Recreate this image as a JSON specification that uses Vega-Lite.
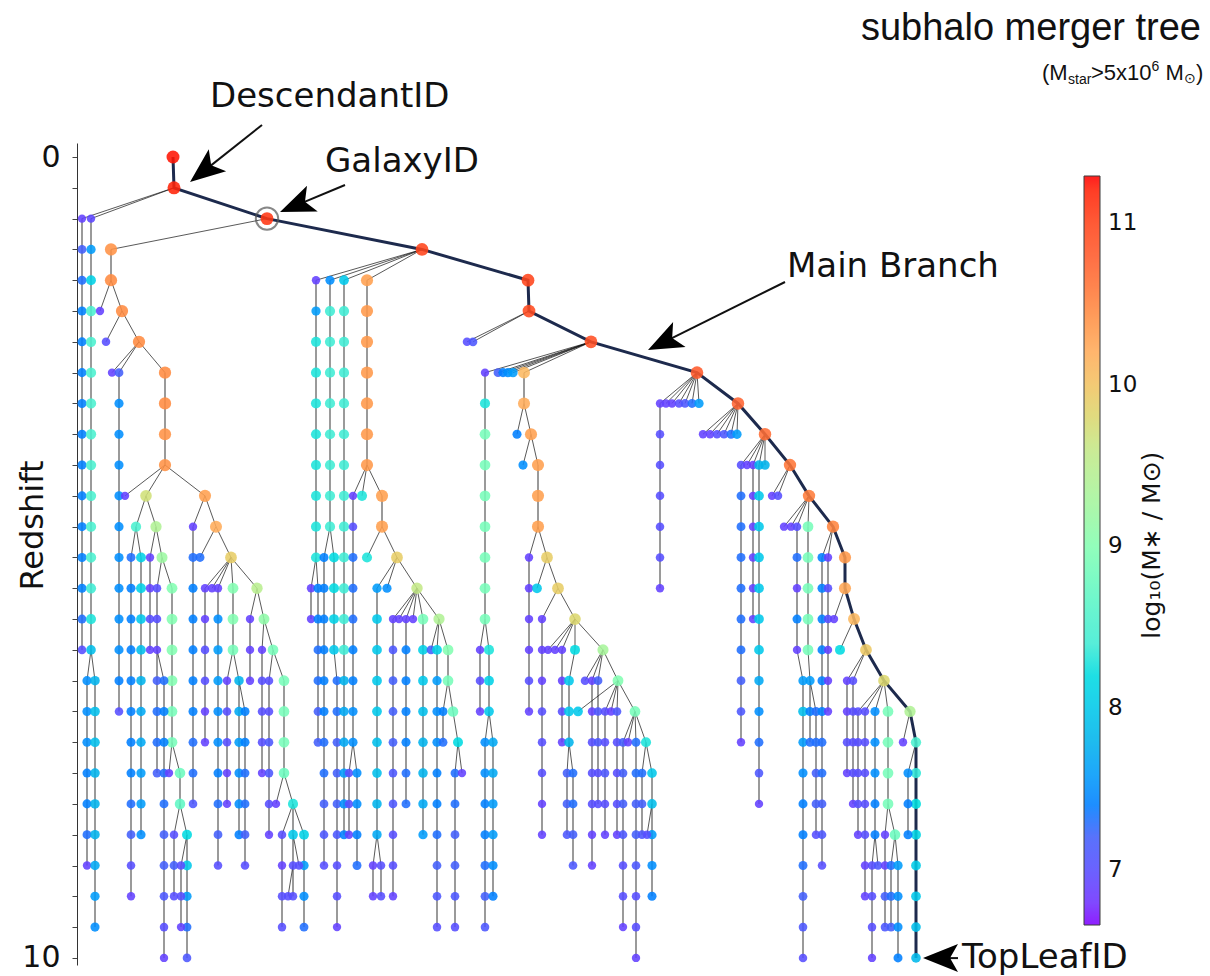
{
"$schema":"https://vega.github.io/schema/vega-lite/v6.json",
"width":1133,"height":822,"autosize":"none",
"padding":{"left":77,"top":143,"right":0,"bottom":11},
"background":"white",
"config":{"view":{"stroke":null},"font":"DejaVu Sans"},
"datasets":{
"nodes":[
{"x":173,"l":0,"m":11.25,"mb":1},{"x":174,"l":1,"m":11.2,"mb":1},{"x":267,"l":2,"m":11.1,"mb":1},{"x":422,"l":3,"m":11.0,"mb":1},{"x":528,"l":4,"m":11.0,"mb":1},{"x":529,"l":5,"m":10.95,"mb":1},{"x":591,"l":6,"m":10.9,"mb":1},{"x":697,"l":7,"m":10.8,"mb":1},{"x":738,"l":8,"m":10.7,"mb":1},{"x":765,"l":9,"m":10.65,"mb":1},{"x":790,"l":10,"m":10.6,"mb":1},{"x":809,"l":11,"m":10.55,"mb":1},{"x":833,"l":12,"m":10.5,"mb":1},{"x":845,"l":13,"m":10.35,"mb":1},{"x":845,"l":14,"m":10.25,"mb":1},{"x":854,"l":15,"m":10.1,"mb":1},{"x":866,"l":16,"m":9.95,"mb":1},{"x":884,"l":17,"m":9.8,"mb":1},{"x":910,"l":18,"m":9.4,"mb":1},{"x":916,"l":19,"m":8.5,"mb":1},{"x":916,"l":20,"m":8.35,"mb":1},{"x":916,"l":21,"m":8.25,"mb":1},{"x":916,"l":22,"m":8.15,"mb":1},{"x":916,"l":23,"m":8.05,"mb":1},{"x":916,"l":24,"m":8.0,"mb":1},{"x":916,"l":25,"m":7.9,"mb":1},{"x":916,"l":26,"m":7.85,"mb":1},
{"x":82,"l":2,"m":6.9},{"x":82,"l":3,"m":7.2},{"x":82,"l":4,"m":7.3},{"x":82,"l":5,"m":7.4},{"x":82,"l":6,"m":7.4},{"x":82,"l":7,"m":7.4},{"x":82,"l":8,"m":7.4},{"x":82,"l":9,"m":7.4},{"x":82,"l":10,"m":7.4},{"x":82,"l":11,"m":7.4},{"x":82,"l":12,"m":7.4},{"x":82,"l":13,"m":7.4},{"x":82,"l":14,"m":7.4},{"x":82,"l":15,"m":7.3},{"x":82,"l":16,"m":7.0},
{"x":91,"l":2,"m":6.95},{"x":91,"l":3,"m":7.6},{"x":91,"l":4,"m":8.1},{"x":91,"l":5,"m":8.5},{"x":91,"l":6,"m":8.5},{"x":91,"l":7,"m":8.5},{"x":91,"l":8,"m":8.5},{"x":91,"l":9,"m":8.5},{"x":91,"l":10,"m":8.5},{"x":91,"l":11,"m":8.5},{"x":91,"l":12,"m":8.5},{"x":91,"l":13,"m":8.5},{"x":91,"l":14,"m":8.4},{"x":91,"l":15,"m":8.3},{"x":91,"l":16,"m":7.9},
{"x":87,"l":17,"m":7.5},{"x":87,"l":18,"m":7.5},{"x":87,"l":19,"m":7.5},{"x":87,"l":20,"m":7.4},{"x":87,"l":21,"m":7.4},{"x":87,"l":22,"m":7.3},{"x":87,"l":23,"m":6.9},
{"x":95,"l":17,"m":7.8},{"x":95,"l":18,"m":7.9},{"x":95,"l":19,"m":7.9},{"x":95,"l":20,"m":7.8},{"x":95,"l":21,"m":7.8},{"x":95,"l":22,"m":7.8},{"x":95,"l":23,"m":7.7},{"x":95,"l":24,"m":7.6},{"x":95,"l":25,"m":7.5},
{"x":111,"l":3,"m":10.4},{"x":111,"l":4,"m":10.45},{"x":100,"l":5,"m":6.9},{"x":122,"l":5,"m":10.45},{"x":106,"l":6,"m":7.0},{"x":139,"l":6,"m":10.45},{"x":112,"l":7,"m":6.9},
{"x":119,"l":7,"m":7.2},{"x":119,"l":8,"m":7.5},{"x":119,"l":9,"m":7.5},{"x":119,"l":10,"m":7.5},{"x":119,"l":11,"m":7.5},{"x":119,"l":12,"m":7.5},{"x":119,"l":13,"m":7.5},{"x":119,"l":14,"m":7.5},{"x":119,"l":15,"m":7.5},{"x":119,"l":16,"m":7.5},{"x":119,"l":17,"m":7.4},{"x":119,"l":18,"m":7.0},
{"x":165,"l":7,"m":10.45},{"x":165,"l":8,"m":10.45},{"x":165,"l":9,"m":10.4},{"x":165,"l":10,"m":10.4},
{"x":125,"l":11,"m":6.9},{"x":146,"l":11,"m":9.7},{"x":205,"l":11,"m":10.3},{"x":136,"l":12,"m":8.5},{"x":156,"l":12,"m":9.4},
{"x":131,"l":13,"m":7.3},{"x":131,"l":14,"m":7.4},{"x":131,"l":15,"m":7.4},{"x":131,"l":16,"m":7.4},{"x":131,"l":17,"m":7.4},{"x":131,"l":18,"m":7.4},{"x":131,"l":19,"m":7.4},{"x":131,"l":20,"m":7.4},{"x":131,"l":21,"m":7.3},{"x":131,"l":22,"m":7.2},{"x":131,"l":23,"m":7.0},{"x":131,"l":24,"m":6.9},
{"x":141,"l":13,"m":8.1},{"x":141,"l":14,"m":8.1},{"x":141,"l":15,"m":8.0},{"x":141,"l":16,"m":7.9},{"x":141,"l":17,"m":7.8},{"x":141,"l":18,"m":7.7},{"x":141,"l":19,"m":7.7},{"x":141,"l":20,"m":7.6},{"x":141,"l":21,"m":7.6},{"x":141,"l":22,"m":7.5},
{"x":150,"l":13,"m":6.9},{"x":150,"l":14,"m":6.9},{"x":150,"l":15,"m":7.0},{"x":150,"l":16,"m":6.9},{"x":162,"l":13,"m":9.2},
{"x":157,"l":14,"m":7.0},{"x":157,"l":15,"m":7.0},{"x":157,"l":16,"m":6.9},{"x":157,"l":17,"m":7.2},{"x":157,"l":18,"m":7.3},{"x":157,"l":19,"m":7.3},{"x":157,"l":20,"m":7.2},
{"x":172,"l":14,"m":9.0},{"x":172,"l":15,"m":9.0},{"x":172,"l":16,"m":9.0},{"x":172,"l":17,"m":9.0},{"x":172,"l":18,"m":8.9},{"x":172,"l":19,"m":8.9},
{"x":164,"l":17,"m":7.3},{"x":164,"l":18,"m":7.4},{"x":164,"l":19,"m":7.4},{"x":164,"l":20,"m":7.3},{"x":164,"l":21,"m":7.3},{"x":164,"l":22,"m":7.2},{"x":164,"l":23,"m":7.2},{"x":164,"l":24,"m":7.1},{"x":164,"l":25,"m":7.0},{"x":164,"l":26,"m":6.9},
{"x":169,"l":20,"m":6.9},{"x":180,"l":20,"m":8.8},{"x":180,"l":21,"m":8.7},
{"x":174,"l":22,"m":7.0},{"x":174,"l":23,"m":7.2},{"x":174,"l":24,"m":7.0},
{"x":187,"l":22,"m":8.2},{"x":187,"l":23,"m":8.0},{"x":187,"l":24,"m":7.6},{"x":187,"l":25,"m":7.3},{"x":187,"l":26,"m":7.1},
{"x":181,"l":23,"m":7.0},{"x":181,"l":24,"m":7.0},{"x":181,"l":25,"m":6.9},
{"x":193,"l":12,"m":6.9},{"x":193,"l":13,"m":7.3},{"x":193,"l":14,"m":7.4},{"x":193,"l":15,"m":7.4},{"x":193,"l":16,"m":7.4},{"x":193,"l":17,"m":7.4},{"x":193,"l":18,"m":7.4},{"x":193,"l":19,"m":7.3},{"x":193,"l":20,"m":7.3},{"x":193,"l":21,"m":7.1},
{"x":216,"l":12,"m":10.2},{"x":200,"l":13,"m":7.3},{"x":231,"l":13,"m":9.9},
{"x":205,"l":14,"m":6.9},{"x":205,"l":15,"m":6.9},{"x":205,"l":16,"m":7.0},{"x":205,"l":17,"m":7.0},{"x":205,"l":18,"m":6.9},{"x":205,"l":19,"m":6.9},
{"x":212,"l":14,"m":6.9},
{"x":218,"l":14,"m":6.9},{"x":218,"l":15,"m":7.5},{"x":218,"l":16,"m":7.6},{"x":218,"l":17,"m":7.6},{"x":218,"l":18,"m":7.5},{"x":218,"l":19,"m":7.5},{"x":218,"l":20,"m":7.4},{"x":218,"l":21,"m":7.3},{"x":218,"l":22,"m":7.2},{"x":218,"l":23,"m":7.0},
{"x":233,"l":14,"m":9.0},{"x":233,"l":15,"m":9.0},{"x":233,"l":16,"m":8.9},{"x":257,"l":14,"m":9.5},
{"x":227,"l":17,"m":6.9},{"x":227,"l":18,"m":7.0},{"x":227,"l":19,"m":7.0},{"x":227,"l":20,"m":6.9},{"x":227,"l":21,"m":6.9},
{"x":239,"l":17,"m":7.8},{"x":239,"l":18,"m":7.7},{"x":239,"l":19,"m":7.6},{"x":239,"l":20,"m":7.5},{"x":239,"l":21,"m":7.5},{"x":239,"l":22,"m":7.4},
{"x":245,"l":18,"m":7.4},{"x":245,"l":19,"m":7.4},{"x":245,"l":20,"m":7.3},{"x":245,"l":21,"m":7.3},{"x":245,"l":22,"m":7.2},{"x":245,"l":23,"m":7.0},
{"x":250,"l":15,"m":6.9},{"x":250,"l":16,"m":6.9},{"x":250,"l":17,"m":6.9},{"x":264,"l":15,"m":9.1},
{"x":262,"l":16,"m":6.9},{"x":262,"l":17,"m":7.0},{"x":262,"l":18,"m":7.0},{"x":262,"l":19,"m":7.0},{"x":262,"l":20,"m":6.9},
{"x":269,"l":17,"m":7.0},{"x":269,"l":18,"m":7.0},{"x":269,"l":19,"m":7.1},{"x":269,"l":20,"m":7.1},{"x":269,"l":21,"m":7.0},{"x":269,"l":22,"m":6.9},
{"x":273,"l":16,"m":8.9},
{"x":284,"l":17,"m":8.9},{"x":284,"l":18,"m":8.9},{"x":284,"l":19,"m":8.9},{"x":284,"l":20,"m":8.8},
{"x":276,"l":21,"m":6.9},
{"x":293,"l":21,"m":8.3},{"x":293,"l":22,"m":8.0},{"x":293,"l":23,"m":7.0},{"x":293,"l":24,"m":7.0},
{"x":282,"l":22,"m":7.0},{"x":282,"l":23,"m":6.9},{"x":282,"l":24,"m":7.0},{"x":282,"l":25,"m":7.0},
{"x":304,"l":22,"m":8.1},{"x":304,"l":23,"m":7.6},{"x":304,"l":24,"m":7.5},{"x":304,"l":25,"m":7.3},
{"x":299,"l":23,"m":7.0},{"x":288,"l":24,"m":7.0},
{"x":316,"l":4,"m":6.9},{"x":316,"l":5,"m":7.6},{"x":316,"l":6,"m":8.3},{"x":316,"l":7,"m":8.3},{"x":316,"l":8,"m":8.3},{"x":316,"l":9,"m":8.3},{"x":316,"l":10,"m":8.3},{"x":316,"l":11,"m":8.3},{"x":316,"l":12,"m":8.3},{"x":316,"l":13,"m":8.3},
{"x":311,"l":14,"m":6.9},{"x":311,"l":15,"m":6.9},
{"x":318,"l":14,"m":7.4},{"x":318,"l":15,"m":7.4},{"x":318,"l":16,"m":7.3},{"x":318,"l":17,"m":7.3},{"x":318,"l":18,"m":7.2},{"x":318,"l":19,"m":7.2},
{"x":330,"l":4,"m":7.5},{"x":330,"l":5,"m":8.4},{"x":330,"l":6,"m":8.4},{"x":330,"l":7,"m":8.4},{"x":330,"l":8,"m":8.4},{"x":330,"l":9,"m":8.4},{"x":330,"l":10,"m":8.4},{"x":330,"l":11,"m":8.4},{"x":330,"l":12,"m":8.4},
{"x":324,"l":13,"m":7.4},{"x":324,"l":14,"m":7.4},{"x":324,"l":15,"m":7.4},{"x":324,"l":16,"m":7.4},{"x":324,"l":17,"m":7.4},{"x":324,"l":18,"m":7.4},{"x":324,"l":19,"m":7.3},{"x":324,"l":20,"m":7.3},{"x":324,"l":21,"m":7.2},{"x":324,"l":22,"m":7.1},{"x":324,"l":23,"m":7.0},
{"x":334,"l":13,"m":8.2},{"x":334,"l":14,"m":8.2},{"x":334,"l":15,"m":8.1},{"x":334,"l":16,"m":8.0},
{"x":337,"l":17,"m":7.3},{"x":337,"l":18,"m":7.3},{"x":337,"l":19,"m":7.2},{"x":337,"l":20,"m":7.2},{"x":337,"l":21,"m":7.2},{"x":337,"l":22,"m":7.1},{"x":337,"l":23,"m":7.0},{"x":337,"l":24,"m":7.0},{"x":337,"l":25,"m":6.9},
{"x":344,"l":4,"m":8.0},{"x":344,"l":5,"m":8.4},{"x":344,"l":6,"m":8.4},{"x":344,"l":7,"m":8.4},{"x":344,"l":8,"m":8.4},{"x":344,"l":9,"m":8.4},{"x":344,"l":10,"m":8.4},{"x":344,"l":11,"m":8.4},{"x":344,"l":12,"m":8.4},{"x":344,"l":13,"m":8.4},{"x":344,"l":14,"m":8.4},{"x":344,"l":15,"m":8.4},{"x":344,"l":16,"m":8.4},{"x":344,"l":17,"m":7.8},{"x":344,"l":18,"m":7.7},{"x":344,"l":19,"m":7.7},{"x":344,"l":20,"m":7.6},{"x":344,"l":21,"m":7.5},{"x":344,"l":22,"m":7.4},
{"x":367,"l":4,"m":10.3},{"x":367,"l":5,"m":10.35},{"x":367,"l":6,"m":10.35},{"x":367,"l":7,"m":10.35},{"x":367,"l":8,"m":10.35},{"x":367,"l":9,"m":10.35},{"x":367,"l":10,"m":10.35},
{"x":353,"l":11,"m":6.9},{"x":353,"l":12,"m":7.0},{"x":353,"l":13,"m":7.3},{"x":353,"l":14,"m":7.3},{"x":353,"l":15,"m":7.3},{"x":353,"l":16,"m":7.4},{"x":353,"l":17,"m":7.4},{"x":353,"l":18,"m":7.5},{"x":353,"l":19,"m":7.5},
{"x":362,"l":11,"m":8.3},{"x":382,"l":11,"m":10.3},{"x":382,"l":12,"m":10.3},{"x":367,"l":13,"m":8.3},{"x":397,"l":13,"m":9.9},
{"x":377,"l":14,"m":7.6},{"x":377,"l":15,"m":8.0},{"x":377,"l":16,"m":8.0},{"x":377,"l":17,"m":8.0},{"x":377,"l":18,"m":8.0},{"x":377,"l":19,"m":7.9},{"x":377,"l":20,"m":7.9},{"x":377,"l":21,"m":7.8},{"x":377,"l":22,"m":7.7},
{"x":373,"l":23,"m":6.9},{"x":373,"l":24,"m":6.9},{"x":381,"l":23,"m":7.0},{"x":381,"l":24,"m":7.0},
{"x":387,"l":14,"m":7.5},{"x":417,"l":14,"m":9.6},
{"x":393,"l":15,"m":6.9},{"x":393,"l":16,"m":7.1},{"x":393,"l":17,"m":7.2},{"x":393,"l":18,"m":7.2},{"x":393,"l":19,"m":7.2},{"x":393,"l":20,"m":7.1},{"x":393,"l":21,"m":7.1},{"x":393,"l":22,"m":7.0},{"x":393,"l":23,"m":7.0},{"x":393,"l":24,"m":6.9},
{"x":399,"l":15,"m":6.9},
{"x":406,"l":15,"m":6.9},{"x":406,"l":16,"m":7.4},{"x":406,"l":17,"m":7.4},{"x":406,"l":18,"m":7.4},{"x":406,"l":19,"m":7.4},{"x":406,"l":20,"m":7.3},{"x":406,"l":21,"m":7.3},
{"x":413,"l":15,"m":6.9},
{"x":423,"l":15,"m":8.9},{"x":423,"l":16,"m":8.1},{"x":423,"l":17,"m":8.0},{"x":423,"l":18,"m":7.9},{"x":423,"l":19,"m":7.8},{"x":423,"l":20,"m":7.8},{"x":423,"l":21,"m":7.7},{"x":423,"l":22,"m":7.6},
{"x":439,"l":15,"m":9.4},{"x":431,"l":16,"m":7.2},
{"x":437,"l":16,"m":8.1},{"x":437,"l":17,"m":7.6},{"x":437,"l":18,"m":7.5},{"x":437,"l":19,"m":7.5},{"x":437,"l":20,"m":7.4},{"x":437,"l":21,"m":7.4},{"x":437,"l":22,"m":7.3},{"x":437,"l":23,"m":7.2},{"x":437,"l":24,"m":7.1},{"x":437,"l":25,"m":7.0},
{"x":448,"l":16,"m":9.0},{"x":448,"l":17,"m":8.9},{"x":443,"l":18,"m":7.4},{"x":443,"l":19,"m":7.3},{"x":453,"l":18,"m":8.8},{"x":458,"l":19,"m":8.2},
{"x":455,"l":20,"m":7.3},{"x":455,"l":21,"m":7.3},{"x":455,"l":22,"m":7.2},{"x":455,"l":23,"m":7.2},{"x":455,"l":24,"m":7.1},{"x":455,"l":25,"m":7.0},
{"x":462,"l":20,"m":6.9},
{"x":349,"l":20,"m":7.0},{"x":349,"l":21,"m":7.0},{"x":349,"l":22,"m":6.9},
{"x":357,"l":20,"m":7.5},{"x":357,"l":21,"m":7.5},{"x":357,"l":22,"m":7.4},{"x":357,"l":23,"m":7.3},
{"x":485,"l":7,"m":6.9},{"x":485,"l":8,"m":8.3},{"x":485,"l":9,"m":8.9},{"x":485,"l":10,"m":8.9},{"x":485,"l":11,"m":8.9},{"x":485,"l":12,"m":8.9},{"x":485,"l":13,"m":8.9},{"x":485,"l":14,"m":8.9},{"x":485,"l":15,"m":8.9},
{"x":498,"l":7,"m":7.2},{"x":503,"l":7,"m":7.4},{"x":508,"l":7,"m":7.5},{"x":513,"l":7,"m":7.6},
{"x":524,"l":7,"m":10.1},{"x":524,"l":8,"m":10.2},{"x":517,"l":9,"m":7.4},{"x":531,"l":9,"m":10.3},{"x":523,"l":10,"m":7.5},
{"x":538,"l":10,"m":10.3},{"x":538,"l":11,"m":10.3},{"x":538,"l":12,"m":10.3},
{"x":529,"l":13,"m":6.9},{"x":529,"l":14,"m":6.9},{"x":529,"l":15,"m":6.9},{"x":529,"l":16,"m":6.9},{"x":529,"l":17,"m":7.0},{"x":529,"l":18,"m":6.9},
{"x":547,"l":13,"m":9.9},{"x":537,"l":14,"m":8.0},{"x":558,"l":14,"m":9.9},
{"x":542,"l":15,"m":6.9},{"x":542,"l":16,"m":6.9},{"x":542,"l":17,"m":6.9},{"x":542,"l":18,"m":7.0},{"x":542,"l":19,"m":7.0},{"x":542,"l":20,"m":7.0},{"x":542,"l":21,"m":6.9},{"x":542,"l":22,"m":6.9},
{"x":575,"l":15,"m":9.8},{"x":548,"l":16,"m":6.9},{"x":555,"l":16,"m":6.9},
{"x":562,"l":16,"m":6.9},{"x":562,"l":17,"m":6.9},{"x":562,"l":18,"m":7.0},{"x":562,"l":19,"m":6.9},
{"x":575,"l":16,"m":8.2},{"x":603,"l":16,"m":9.3},
{"x":569,"l":17,"m":8.0},{"x":569,"l":18,"m":8.0},{"x":569,"l":19,"m":7.8},
{"x":567,"l":20,"m":7.2},{"x":567,"l":21,"m":7.2},{"x":567,"l":22,"m":7.1},
{"x":573,"l":20,"m":7.3},{"x":573,"l":21,"m":7.3},{"x":573,"l":22,"m":7.2},{"x":573,"l":23,"m":7.1},
{"x":585,"l":17,"m":7.0},
{"x":592,"l":17,"m":6.9},{"x":592,"l":18,"m":6.9},{"x":592,"l":19,"m":7.0},{"x":592,"l":20,"m":7.0},{"x":592,"l":21,"m":7.0},{"x":592,"l":22,"m":6.9},{"x":592,"l":23,"m":6.9},
{"x":598,"l":17,"m":7.2},{"x":598,"l":18,"m":7.1},{"x":598,"l":19,"m":7.1},{"x":598,"l":20,"m":7.0},{"x":598,"l":21,"m":7.0},
{"x":618,"l":17,"m":9.0},{"x":578,"l":18,"m":8.0},
{"x":605,"l":18,"m":7.0},{"x":605,"l":19,"m":7.0},{"x":605,"l":20,"m":7.1},{"x":605,"l":21,"m":7.0},{"x":605,"l":22,"m":6.9},
{"x":611,"l":18,"m":6.9},
{"x":617,"l":18,"m":7.1},{"x":617,"l":19,"m":7.0},{"x":617,"l":20,"m":7.0},{"x":617,"l":21,"m":7.0},{"x":617,"l":22,"m":6.9},
{"x":635,"l":18,"m":8.9},
{"x":623,"l":19,"m":7.2},{"x":623,"l":20,"m":7.2},{"x":623,"l":21,"m":7.2},{"x":623,"l":22,"m":7.1},{"x":623,"l":23,"m":7.0},{"x":623,"l":24,"m":7.0},{"x":623,"l":25,"m":6.9},
{"x":628,"l":19,"m":6.9},
{"x":636,"l":19,"m":7.3},{"x":636,"l":20,"m":7.3},{"x":636,"l":21,"m":7.2},{"x":636,"l":22,"m":7.2},{"x":636,"l":23,"m":7.1},{"x":636,"l":24,"m":7.0},{"x":636,"l":25,"m":7.0},{"x":636,"l":26,"m":6.9},
{"x":646,"l":19,"m":8.3},
{"x":642,"l":20,"m":7.3},{"x":642,"l":21,"m":7.2},{"x":642,"l":22,"m":7.1},
{"x":652,"l":20,"m":8.0},{"x":652,"l":21,"m":7.9},{"x":652,"l":22,"m":7.6},{"x":652,"l":23,"m":7.5},{"x":652,"l":24,"m":7.4},
{"x":647,"l":22,"m":7.0},
{"x":480,"l":16,"m":6.9},{"x":480,"l":17,"m":7.0},{"x":480,"l":18,"m":6.9},
{"x":489,"l":16,"m":8.3},{"x":489,"l":17,"m":8.1},{"x":489,"l":18,"m":8.0},
{"x":485,"l":19,"m":7.5},{"x":485,"l":20,"m":7.5},{"x":485,"l":21,"m":7.4},{"x":485,"l":22,"m":7.4},{"x":485,"l":23,"m":7.3},{"x":485,"l":24,"m":7.2},{"x":485,"l":25,"m":7.1},
{"x":493,"l":19,"m":7.7},{"x":493,"l":20,"m":7.7},{"x":493,"l":21,"m":7.6},{"x":493,"l":22,"m":7.6},{"x":493,"l":23,"m":7.5},{"x":493,"l":24,"m":7.4},
{"x":467,"l":6,"m":7.0},{"x":473,"l":6,"m":7.1},
{"x":660,"l":8,"m":6.9},{"x":660,"l":9,"m":7.0},{"x":660,"l":10,"m":7.0},{"x":660,"l":11,"m":7.0},{"x":660,"l":12,"m":7.0},{"x":660,"l":13,"m":7.0},{"x":660,"l":14,"m":6.9},
{"x":666,"l":8,"m":6.9},{"x":672,"l":8,"m":6.9},{"x":679,"l":8,"m":7.0},{"x":685,"l":8,"m":7.1},{"x":692,"l":8,"m":7.3},{"x":699,"l":8,"m":7.6},
{"x":703,"l":9,"m":6.9},{"x":710,"l":9,"m":6.9},{"x":717,"l":9,"m":7.0},{"x":724,"l":9,"m":7.1},{"x":731,"l":9,"m":7.3},{"x":737,"l":9,"m":7.6},
{"x":741,"l":10,"m":7.0},{"x":741,"l":11,"m":7.3},{"x":741,"l":12,"m":7.3},{"x":741,"l":13,"m":7.3},{"x":741,"l":14,"m":7.3},{"x":741,"l":15,"m":7.3},{"x":741,"l":16,"m":7.3},{"x":741,"l":17,"m":7.2},{"x":741,"l":18,"m":7.1},{"x":741,"l":19,"m":6.9},
{"x":747,"l":10,"m":6.9},
{"x":753,"l":10,"m":6.9},{"x":753,"l":11,"m":6.9},{"x":753,"l":12,"m":6.9},{"x":753,"l":13,"m":6.9},{"x":753,"l":14,"m":6.9},{"x":753,"l":15,"m":6.9},
{"x":759,"l":10,"m":7.8},{"x":759,"l":11,"m":8.0},{"x":759,"l":12,"m":8.0},{"x":759,"l":13,"m":8.0},{"x":759,"l":14,"m":8.0},{"x":759,"l":15,"m":8.0},{"x":759,"l":16,"m":8.0},{"x":759,"l":17,"m":7.7},{"x":759,"l":18,"m":7.5},{"x":759,"l":19,"m":7.3},{"x":759,"l":20,"m":7.1},{"x":759,"l":21,"m":6.9},
{"x":765,"l":10,"m":7.8},{"x":772,"l":11,"m":6.9},{"x":778,"l":11,"m":7.0},{"x":784,"l":12,"m":6.9},{"x":791,"l":12,"m":6.9},
{"x":797,"l":12,"m":7.0},{"x":797,"l":13,"m":7.3},{"x":797,"l":14,"m":6.9},{"x":797,"l":15,"m":7.4},{"x":797,"l":16,"m":6.9},
{"x":808,"l":12,"m":8.9},{"x":808,"l":13,"m":8.9},{"x":808,"l":14,"m":8.9},{"x":808,"l":15,"m":8.9},{"x":808,"l":16,"m":8.9},
{"x":803,"l":17,"m":7.6},{"x":803,"l":18,"m":7.9},{"x":803,"l":19,"m":7.6},{"x":803,"l":20,"m":7.5},{"x":803,"l":21,"m":7.4},{"x":803,"l":22,"m":7.4},{"x":803,"l":23,"m":7.3},{"x":803,"l":24,"m":7.2},{"x":803,"l":25,"m":7.1},{"x":803,"l":26,"m":7.0},
{"x":810,"l":17,"m":7.6},{"x":810,"l":18,"m":7.4},{"x":810,"l":19,"m":7.3},
{"x":816,"l":18,"m":7.3},{"x":816,"l":19,"m":7.3},{"x":816,"l":20,"m":7.2},{"x":816,"l":21,"m":7.2},{"x":816,"l":22,"m":7.0},
{"x":822,"l":13,"m":7.4},{"x":822,"l":14,"m":7.4},{"x":822,"l":15,"m":7.4},{"x":822,"l":16,"m":7.4},{"x":822,"l":17,"m":7.4},{"x":822,"l":18,"m":7.4},{"x":822,"l":19,"m":7.3},{"x":822,"l":20,"m":7.3},{"x":822,"l":21,"m":7.2},{"x":822,"l":22,"m":7.1},{"x":822,"l":23,"m":7.0},
{"x":828,"l":13,"m":6.9},{"x":828,"l":14,"m":7.0},{"x":828,"l":15,"m":7.0},{"x":828,"l":16,"m":6.9},{"x":828,"l":17,"m":6.9},{"x":828,"l":18,"m":6.9},
{"x":834,"l":15,"m":6.9},{"x":840,"l":16,"m":8.2},
{"x":847,"l":17,"m":6.9},{"x":847,"l":18,"m":6.9},{"x":847,"l":19,"m":7.0},{"x":847,"l":20,"m":6.9},
{"x":853,"l":17,"m":7.0},{"x":853,"l":18,"m":7.0},{"x":853,"l":19,"m":7.0},{"x":853,"l":20,"m":7.0},{"x":853,"l":21,"m":6.9},
{"x":858,"l":18,"m":7.0},{"x":858,"l":19,"m":7.0},{"x":858,"l":20,"m":7.0},{"x":858,"l":21,"m":7.0},{"x":858,"l":22,"m":6.9},
{"x":865,"l":18,"m":7.0},{"x":865,"l":19,"m":7.0},{"x":865,"l":20,"m":7.0},{"x":865,"l":21,"m":7.0},{"x":865,"l":22,"m":7.0},{"x":865,"l":23,"m":6.9},{"x":865,"l":24,"m":6.9},
{"x":875,"l":18,"m":7.5},{"x":875,"l":19,"m":7.5},{"x":875,"l":20,"m":7.5},{"x":875,"l":21,"m":7.4},{"x":875,"l":22,"m":7.4},
{"x":888,"l":18,"m":8.9},{"x":888,"l":19,"m":8.9},{"x":888,"l":20,"m":8.9},{"x":888,"l":21,"m":8.9},
{"x":872,"l":23,"m":7.0},{"x":872,"l":24,"m":7.0},{"x":872,"l":25,"m":7.0},{"x":872,"l":26,"m":6.9},
{"x":878,"l":23,"m":7.1},
{"x":885,"l":22,"m":6.9},{"x":885,"l":23,"m":6.9},{"x":885,"l":24,"m":7.2},{"x":885,"l":25,"m":7.1},
{"x":895,"l":22,"m":8.8},
{"x":891,"l":23,"m":7.3},{"x":891,"l":24,"m":7.3},{"x":891,"l":25,"m":7.2},
{"x":898,"l":23,"m":7.6},{"x":898,"l":24,"m":7.5},{"x":898,"l":25,"m":7.5},{"x":898,"l":26,"m":7.4},
{"x":903,"l":19,"m":6.9},
{"x":908,"l":20,"m":7.5},{"x":908,"l":21,"m":7.4},{"x":908,"l":22,"m":7.4}
],
"cols":[
{"x":82,"l":2,"b":16,"px":174,"pl":1},{"x":91,"l":2,"b":16,"px":174,"pl":1},{"x":87,"l":17,"b":23,"px":91,"pl":16},{"x":95,"l":17,"b":25,"px":91,"pl":16},
{"x":111,"l":3,"b":4,"px":267,"pl":2},{"x":100,"l":5,"b":5,"px":111,"pl":4},{"x":122,"l":5,"b":5,"px":111,"pl":4},{"x":106,"l":6,"b":6,"px":122,"pl":5},{"x":139,"l":6,"b":6,"px":122,"pl":5},
{"x":112,"l":7,"b":7,"px":139,"pl":6},{"x":119,"l":7,"b":18,"px":139,"pl":6},{"x":165,"l":7,"b":10,"px":139,"pl":6},
{"x":125,"l":11,"b":11,"px":165,"pl":10},{"x":146,"l":11,"b":11,"px":165,"pl":10},{"x":205,"l":11,"b":11,"px":165,"pl":10},
{"x":136,"l":12,"b":12,"px":146,"pl":11},{"x":156,"l":12,"b":12,"px":146,"pl":11},
{"x":131,"l":13,"b":24,"px":136,"pl":12},{"x":141,"l":13,"b":22,"px":136,"pl":12},{"x":150,"l":13,"b":16,"px":156,"pl":12},{"x":162,"l":13,"b":13,"px":156,"pl":12},
{"x":157,"l":14,"b":20,"px":162,"pl":13},{"x":172,"l":14,"b":19,"px":162,"pl":13},{"x":164,"l":17,"b":26,"px":157,"pl":16},
{"x":169,"l":20,"b":20,"px":172,"pl":19},{"x":180,"l":20,"b":21,"px":172,"pl":19},{"x":174,"l":22,"b":24,"px":180,"pl":21},{"x":187,"l":22,"b":26,"px":180,"pl":21},{"x":181,"l":23,"b":25,"px":187,"pl":22},
{"x":193,"l":12,"b":21,"px":205,"pl":11},{"x":216,"l":12,"b":12,"px":205,"pl":11},{"x":200,"l":13,"b":13,"px":216,"pl":12},{"x":231,"l":13,"b":13,"px":216,"pl":12},
{"x":205,"l":14,"b":19,"px":231,"pl":13},{"x":212,"l":14,"b":14,"px":231,"pl":13},{"x":218,"l":14,"b":23,"px":231,"pl":13},{"x":233,"l":14,"b":16,"px":231,"pl":13},{"x":257,"l":14,"b":14,"px":231,"pl":13},
{"x":227,"l":17,"b":21,"px":233,"pl":16},{"x":239,"l":17,"b":22,"px":233,"pl":16},{"x":245,"l":18,"b":23,"px":239,"pl":17},
{"x":250,"l":15,"b":17,"px":257,"pl":14},{"x":264,"l":15,"b":15,"px":257,"pl":14},{"x":262,"l":16,"b":20,"px":264,"pl":15},{"x":269,"l":17,"b":22,"px":273,"pl":16},{"x":273,"l":16,"b":16,"px":264,"pl":15},
{"x":284,"l":17,"b":20,"px":273,"pl":16},{"x":276,"l":21,"b":21,"px":284,"pl":20},{"x":293,"l":21,"b":24,"px":284,"pl":20},{"x":282,"l":22,"b":25,"px":293,"pl":21},{"x":304,"l":22,"b":25,"px":293,"pl":21},{"x":299,"l":23,"b":23,"px":293,"pl":22},{"x":288,"l":24,"b":24,"px":293,"pl":23},
{"x":316,"l":4,"b":13,"px":422,"pl":3},{"x":311,"l":14,"b":15,"px":316,"pl":13},{"x":318,"l":14,"b":19,"px":316,"pl":13},
{"x":330,"l":4,"b":12,"px":422,"pl":3},{"x":324,"l":13,"b":23,"px":330,"pl":12},{"x":334,"l":13,"b":16,"px":330,"pl":12},{"x":337,"l":17,"b":25,"px":334,"pl":16},
{"x":344,"l":4,"b":22,"px":422,"pl":3},{"x":367,"l":4,"b":10,"px":422,"pl":3},
{"x":353,"l":11,"b":19,"px":367,"pl":10},{"x":362,"l":11,"b":11,"px":367,"pl":10},{"x":382,"l":11,"b":12,"px":367,"pl":10},
{"x":367,"l":13,"b":13,"px":382,"pl":12},{"x":397,"l":13,"b":13,"px":382,"pl":12},
{"x":377,"l":14,"b":22,"px":397,"pl":13},{"x":373,"l":23,"b":24,"px":377,"pl":22},{"x":381,"l":23,"b":24,"px":377,"pl":22},
{"x":387,"l":14,"b":14,"px":397,"pl":13},{"x":417,"l":14,"b":14,"px":397,"pl":13},
{"x":393,"l":15,"b":24,"px":417,"pl":14},{"x":399,"l":15,"b":15,"px":417,"pl":14},{"x":406,"l":15,"b":21,"px":417,"pl":14},{"x":413,"l":15,"b":15,"px":417,"pl":14},{"x":423,"l":15,"b":22,"px":417,"pl":14},{"x":439,"l":15,"b":15,"px":417,"pl":14},
{"x":431,"l":16,"b":16,"px":439,"pl":15},{"x":437,"l":16,"b":25,"px":439,"pl":15},{"x":448,"l":16,"b":17,"px":439,"pl":15},
{"x":443,"l":18,"b":19,"px":448,"pl":17},{"x":453,"l":18,"b":18,"px":448,"pl":17},{"x":458,"l":19,"b":19,"px":453,"pl":18},{"x":455,"l":20,"b":25,"px":458,"pl":19},{"x":462,"l":20,"b":20,"px":458,"pl":19},
{"x":349,"l":20,"b":22,"px":353,"pl":19},{"x":357,"l":20,"b":23,"px":353,"pl":19},
{"x":485,"l":7,"b":15,"px":591,"pl":6},{"x":498,"l":7,"b":7,"px":591,"pl":6},{"x":503,"l":7,"b":7,"px":591,"pl":6},{"x":508,"l":7,"b":7,"px":591,"pl":6},{"x":513,"l":7,"b":7,"px":591,"pl":6},{"x":524,"l":7,"b":8,"px":591,"pl":6},
{"x":517,"l":9,"b":9,"px":524,"pl":8},{"x":531,"l":9,"b":9,"px":524,"pl":8},{"x":523,"l":10,"b":10,"px":531,"pl":9},{"x":538,"l":10,"b":12,"px":531,"pl":9},
{"x":529,"l":13,"b":18,"px":538,"pl":12},{"x":547,"l":13,"b":13,"px":538,"pl":12},{"x":537,"l":14,"b":14,"px":547,"pl":13},{"x":558,"l":14,"b":14,"px":547,"pl":13},
{"x":542,"l":15,"b":22,"px":558,"pl":14},{"x":575,"l":15,"b":15,"px":558,"pl":14},
{"x":548,"l":16,"b":16,"px":575,"pl":15},{"x":555,"l":16,"b":16,"px":575,"pl":15},{"x":562,"l":16,"b":19,"px":575,"pl":15},{"x":575,"l":16,"b":16,"px":575,"pl":15},{"x":603,"l":16,"b":16,"px":575,"pl":15},
{"x":569,"l":17,"b":19,"px":575,"pl":16},{"x":567,"l":20,"b":22,"px":569,"pl":19},{"x":573,"l":20,"b":23,"px":569,"pl":19},
{"x":585,"l":17,"b":17,"px":603,"pl":16},{"x":592,"l":17,"b":23,"px":603,"pl":16},{"x":598,"l":17,"b":21,"px":603,"pl":16},{"x":618,"l":17,"b":17,"px":603,"pl":16},
{"x":578,"l":18,"b":18,"px":618,"pl":17},{"x":605,"l":18,"b":22,"px":618,"pl":17},{"x":611,"l":18,"b":18,"px":618,"pl":17},{"x":617,"l":18,"b":22,"px":618,"pl":17},{"x":635,"l":18,"b":18,"px":618,"pl":17},
{"x":623,"l":19,"b":25,"px":635,"pl":18},{"x":628,"l":19,"b":19,"px":635,"pl":18},{"x":636,"l":19,"b":26,"px":635,"pl":18},{"x":646,"l":19,"b":19,"px":635,"pl":18},
{"x":642,"l":20,"b":22,"px":646,"pl":19},{"x":652,"l":20,"b":24,"px":646,"pl":19},{"x":647,"l":22,"b":22,"px":652,"pl":21},
{"x":480,"l":16,"b":18,"px":485,"pl":15},{"x":489,"l":16,"b":18,"px":485,"pl":15},{"x":485,"l":19,"b":25,"px":489,"pl":18},{"x":493,"l":19,"b":24,"px":489,"pl":18},
{"x":467,"l":6,"b":6,"px":529,"pl":5},{"x":473,"l":6,"b":6,"px":529,"pl":5},
{"x":660,"l":8,"b":14,"px":697,"pl":7},{"x":666,"l":8,"b":8,"px":697,"pl":7},{"x":672,"l":8,"b":8,"px":697,"pl":7},{"x":679,"l":8,"b":8,"px":697,"pl":7},{"x":685,"l":8,"b":8,"px":697,"pl":7},{"x":692,"l":8,"b":8,"px":697,"pl":7},{"x":699,"l":8,"b":8,"px":697,"pl":7},
{"x":703,"l":9,"b":9,"px":738,"pl":8},{"x":710,"l":9,"b":9,"px":738,"pl":8},{"x":717,"l":9,"b":9,"px":738,"pl":8},{"x":724,"l":9,"b":9,"px":738,"pl":8},{"x":731,"l":9,"b":9,"px":738,"pl":8},{"x":737,"l":9,"b":9,"px":738,"pl":8},
{"x":741,"l":10,"b":19,"px":765,"pl":9},{"x":747,"l":10,"b":10,"px":765,"pl":9},{"x":753,"l":10,"b":15,"px":765,"pl":9},{"x":759,"l":10,"b":21,"px":765,"pl":9},{"x":765,"l":10,"b":10,"px":765,"pl":9},
{"x":772,"l":11,"b":11,"px":790,"pl":10},{"x":778,"l":11,"b":11,"px":790,"pl":10},
{"x":784,"l":12,"b":12,"px":809,"pl":11},{"x":791,"l":12,"b":12,"px":809,"pl":11},{"x":797,"l":12,"b":16,"px":809,"pl":11},{"x":808,"l":12,"b":16,"px":809,"pl":11},
{"x":803,"l":17,"b":26,"px":797,"pl":16},{"x":810,"l":17,"b":19,"px":808,"pl":16},{"x":816,"l":18,"b":22,"px":810,"pl":17},
{"x":822,"l":13,"b":23,"px":833,"pl":12},{"x":828,"l":13,"b":18,"px":833,"pl":12},
{"x":834,"l":15,"b":15,"px":845,"pl":14},{"x":840,"l":16,"b":16,"px":854,"pl":15},
{"x":847,"l":17,"b":20,"px":866,"pl":16},{"x":853,"l":17,"b":21,"px":866,"pl":16},
{"x":858,"l":18,"b":22,"px":884,"pl":17},{"x":865,"l":18,"b":24,"px":884,"pl":17},{"x":875,"l":18,"b":22,"px":884,"pl":17},{"x":888,"l":18,"b":21,"px":884,"pl":17},
{"x":872,"l":23,"b":26,"px":875,"pl":22},{"x":878,"l":23,"b":23,"px":875,"pl":22},{"x":885,"l":22,"b":25,"px":888,"pl":21},{"x":895,"l":22,"b":22,"px":888,"pl":21},{"x":891,"l":23,"b":25,"px":895,"pl":22},{"x":898,"l":23,"b":26,"px":895,"pl":22},
{"x":903,"l":19,"b":19,"px":910,"pl":18},{"x":908,"l":20,"b":22,"px":916,"pl":19}
],
"arrows":[
{"x":262,"l":-1.039,"x2v":205.7,"l2v":0.409},
{"x":345,"l":0.909,"x2v":298.5,"l2v":1.536},
{"x":785,"l":4.058,"x2v":665.9,"l2v":5.977},
{"x":958,"l":26.006,"x2v":943,"l2v":26.006}
],
"heads":[
{"x":205.7,"l":0.409,"ang":231.6},
{"x":298.5,"l":1.536,"ang":247.5},
{"x":665.9,"l":5.977,"ang":243.6},
{"x":943,"l":26.006,"ang":270}
],
"notes":[
{"x":210,"l":-1.948,"t":"DescendantID"},
{"x":325,"l":0.162,"t":"GalaxyID"},
{"x":787,"l":3.571,"t":"Main Branch"},
{"x":962,"l":26.006,"t":"TopLeafID"}
],
"titles":[
{"x":1201,"l":-3.8,"t":"subhalo merger tree","s":38}
],
"sub":[
{"x":1042,"l":-2.5,"t":"(M","s":22},
{"x":1068,"l":-2.37,"t":"star","s":14},
{"x":1091,"l":-2.5,"t":">5x10","s":22},
{"x":1151.5,"l":-2.79,"t":"6","s":14},
{"x":1165.5,"l":-2.5,"t":"M","s":22},
{"x":1184,"l":-2.4,"t":"⊙","s":14},
{"x":1196,"l":-2.5,"t":")","s":22}
],
"ctitle":[{"x":1152,"l":12.6,"t":"log₁₀(M∗ / M⊙)"}],
"ring":[{"x":267,"l":2}]
},
"encoding":{
"x":{"field":"x","type":"quantitative","scale":{"domain":[77,1210],"nice":false,"zero":false},"axis":null},
"y":{"field":"l","type":"quantitative","scale":{"domain":[-0.455,26.23],"nice":false,"zero":false,"reverse":true},
"axis":{"values":[0,1,2,3,4,5,6,7,8,9,10,11,12,13,14,15,16,17,18,19,20,21,22,23,24,25,26],
"labelExpr":"datum.value==0?'0':(datum.value==26?'10':'')","labelFontSize":30,"labelColor":"#111","labelPadding":12,"labelOverlap":false,"labelFlush":false,"labelBaseline":"middle",
"tickSize":5,"tickColor":"#444","domainColor":"#333","grid":false,
"title":"Redshift","titleFontSize":32,"titleFontWeight":"normal","titleColor":"#111","titleX":-45,"titleY":382,"titleAngle":270,"titleAlign":"center","titleBaseline":"middle"}}
},
"layer":[
{"data":{"name":"cols"},"transform":[{"filter":"datum.b > datum.l"}],"mark":{"type":"rule","color":"#9a9a9a","strokeWidth":2},"encoding":{"y2":{"field":"b"}}},
{"data":{"name":"cols"},"mark":{"type":"rule","color":"#111","strokeWidth":0.7},"encoding":{"x2":{"field":"px"},"y2":{"field":"pl"}}},
{"data":{"name":"nodes"},"transform":[{"filter":"datum.mb == 1"}],"mark":{"type":"line","color":"#1d2a4d","strokeWidth":3},"encoding":{"order":{"field":"l","type":"quantitative"}}},
{"data":{"name":"nodes"},"mark":{"type":"circle","opacity":0.88,"stroke":null},
"encoding":{
"color":{"field":"m","type":"quantitative","scale":{"domain":[6.66,7.23875,7.8175,8.39625,8.975,9.55375,10.1325,10.71125,11.29],"range":["#8000ff","#4062fa","#00b5eb","#40ecd4","#80ffb4","#bfec8e","#ffb462","#ff6232","#ff0000"]},
"legend":{"orient":"none","legendX":1007,"legendY":33,"direction":"vertical","gradientLength":749,"gradientThickness":16,"title":null,"values":[7,8,9,10,11],"format":".0f","labelFontSize":23,"labelColor":"#111","labelFont":"DejaVu Sans","gradientStrokeColor":"#222","gradientStrokeWidth":1,"labelOffset":8,"padding":0}},
"size":{"field":"m","type":"quantitative","scale":{"domain":[6.66,11.29],"range":[65,170]},"legend":null}}},
{"data":{"name":"ring"},"mark":{"type":"point","shape":"circle","filled":false,"size":500,"stroke":"#555","strokeWidth":2}},
{"data":{"name":"arrows"},"mark":{"type":"rule","color":"#111","strokeWidth":2},"encoding":{"x2":{"field":"x2v"},"y2":{"field":"l2v"}}},
{"data":{"name":"heads"},"mark":{"type":"point","shape":"M0,-1L0.7,0.75L0,0.35L-0.7,0.75Z","filled":true,"color":"#000","size":1600,"opacity":1},"encoding":{"angle":{"field":"ang","type":"quantitative","scale":null}}},
{"data":{"name":"notes"},"mark":{"type":"text","align":"left","baseline":"middle","fontSize":34,"font":"DejaVu Sans","color":"#111"},"encoding":{"text":{"field":"t"}}},
{"data":{"name":"titles"},"mark":{"type":"text","align":"right","baseline":"alphabetic","font":"Liberation Sans","color":"#111"},"encoding":{"text":{"field":"t"},"size":{"field":"s","type":"quantitative","scale":null}}},
{"data":{"name":"sub"},"mark":{"type":"text","align":"left","baseline":"alphabetic","font":"Liberation Sans","color":"#111"},"encoding":{"text":{"field":"t"},"size":{"field":"s","type":"quantitative","scale":null}}},
{"data":{"name":"ctitle"},"mark":{"type":"text","align":"center","baseline":"middle","angle":270,"fontSize":25,"font":"DejaVu Sans","color":"#111"},"encoding":{"text":{"field":"t"}}}
]
}
